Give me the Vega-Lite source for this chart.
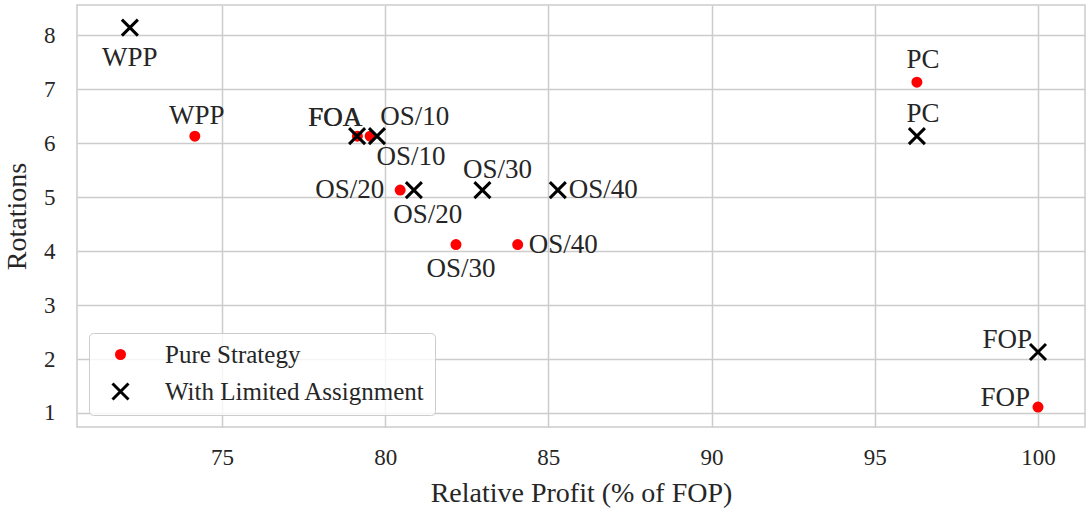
{
  "$schema": "https://vega.github.io/schema/vega-lite/v6.json",
  "autosize": "none",
  "width": 1008,
  "height": 422,
  "padding": {"left": 77, "top": 5, "right": 1, "bottom": 86},
  "background": "white",
  "config": {
    "font": "Liberation Serif",
    "view": {"stroke": "#cccccc", "strokeWidth": 1.5},
    "style": {
      "guide-label": {"font": "Liberation Serif", "fill": "#262626"},
      "guide-title": {"font": "Liberation Serif", "fill": "#262626"}
    },
    "axis": {
      "grid": true, "gridColor": "#cccccc", "gridWidth": 1.5,
      "domain": false, "ticks": false,
      "labelFont": "Liberation Serif", "labelFontSize": 23, "labelColor": "#262626",
      "titleFont": "Liberation Serif", "titleFontSize": 28, "titleColor": "#262626", "titleFontWeight": "normal"
    },
    "legend": {
      "labelFont": "Liberation Serif", "labelFontSize": 25, "labelColor": "#262626", "labelLimit": 0
    }
  },
  "data": {
    "values": [
      {"k": "P-WPP", "series": "Pure Strategy", "name": "WPP", "profit": 74.17, "rot": 6.13},
      {"k": "P-FOA", "series": "Pure Strategy", "name": "FOA", "profit": 79.15, "rot": 6.13},
      {"k": "P-OS10", "series": "Pure Strategy", "name": "OS/10", "profit": 79.54, "rot": 6.13},
      {"k": "P-OS20", "series": "Pure Strategy", "name": "OS/20", "profit": 80.46, "rot": 5.13},
      {"k": "P-OS30", "series": "Pure Strategy", "name": "OS/30", "profit": 82.17, "rot": 4.12},
      {"k": "P-OS40", "series": "Pure Strategy", "name": "OS/40", "profit": 84.06, "rot": 4.12},
      {"k": "P-PC", "series": "Pure Strategy", "name": "PC", "profit": 96.29, "rot": 7.13},
      {"k": "P-FOP", "series": "Pure Strategy", "name": "FOP", "profit": 100.0, "rot": 1.11},
      {"k": "X-WPP", "series": "With Limited Assignment", "name": "WPP", "profit": 72.18, "rot": 8.14},
      {"k": "X-FOA", "series": "With Limited Assignment", "name": "FOA", "profit": 79.14, "rot": 6.13},
      {"k": "X-OS10", "series": "With Limited Assignment", "name": "OS/10", "profit": 79.75, "rot": 6.13},
      {"k": "X-OS20", "series": "With Limited Assignment", "name": "OS/20", "profit": 80.88, "rot": 5.13},
      {"k": "X-OS30", "series": "With Limited Assignment", "name": "OS/30", "profit": 82.98, "rot": 5.13},
      {"k": "X-OS40", "series": "With Limited Assignment", "name": "OS/40", "profit": 85.29, "rot": 5.13},
      {"k": "X-PC", "series": "With Limited Assignment", "name": "PC", "profit": 96.29, "rot": 6.13},
      {"k": "X-FOP", "series": "With Limited Assignment", "name": "FOP", "profit": 100.0, "rot": 2.13}
    ]
  },
  "encoding": {
    "x": {"field": "profit", "type": "quantitative", "title": "Relative Profit (% of FOP)",
      "scale": {"domain": [70.56, 101.44], "nice": false, "zero": false},
      "axis": {"values": [75, 80, 85, 90, 95, 100], "labelPadding": 19, "titlePadding": 10,
        "labelFont": "Liberation Serif", "titleFont": "Liberation Serif", "labelFontSize": 23, "titleFontSize": 28}},
    "y": {"field": "rot", "type": "quantitative", "title": "Rotations",
      "scale": {"domain": [0.74, 8.56], "nice": false, "zero": false},
      "axis": {"values": [1, 2, 3, 4, 5, 6, 7, 8], "labelPadding": 22, "titlePadding": 12,
        "labelFont": "Liberation Serif", "titleFont": "Liberation Serif", "labelFontSize": 23, "titleFontSize": 28}}
  },
  "layer": [
    {
      "mark": {"type": "point", "strokeWidth": 3, "opacity": 1},
      "encoding": {
        "shape": {"field": "series", "type": "nominal", "title": null,
          "scale": {"domain": ["Pure Strategy", "With Limited Assignment"], "range": ["circle", "M-1,-1L1,1M-1,1L1,-1"]},
          "legend": {"orient": "bottom-left", "offset": 12, "padding": 9, "rowPadding": 9, "labelOffset": 32, "symbolOffset": 10,
            "labelFont": "Liberation Serif", "labelFontSize": 25, "labelLimit": 0,
            "fillColor": "rgba(255,255,255,0.8)", "strokeColor": "#cccccc", "cornerRadius": 4, "symbolStrokeWidth": 3}},
        "fill": {"field": "series", "type": "nominal", "title": null,
          "scale": {"domain": ["Pure Strategy", "With Limited Assignment"], "range": ["#ff0000", "transparent"]}},
        "stroke": {"field": "series", "type": "nominal", "title": null,
          "scale": {"domain": ["Pure Strategy", "With Limited Assignment"], "range": ["#ff0000", "#000000"]}},
        "size": {"field": "series", "type": "nominal", "title": null,
          "scale": {"domain": ["Pure Strategy", "With Limited Assignment"], "range": [64, 256]}}
      }
    },
    {"transform": [{"filter": {"field": "k", "equal": "X-WPP"}}],
     "mark": {"type": "text", "fontSize": 27, "color": "#262626", "align": "center", "baseline": "middle", "dx": 0, "dy": 30},
     "encoding": {"text": {"field": "name"}}},
    {"transform": [{"filter": {"field": "k", "equal": "P-WPP"}}],
     "mark": {"type": "text", "fontSize": 27, "color": "#262626", "align": "center", "baseline": "middle", "dx": 2, "dy": -20},
     "encoding": {"text": {"field": "name"}}},
    {"transform": [{"filter": {"field": "k", "oneOf": ["P-PC", "X-PC"]}}],
     "mark": {"type": "text", "fontSize": 27, "color": "#262626", "align": "center", "baseline": "middle", "dx": 6, "dy": -22},
     "encoding": {"text": {"field": "name"}}},
    {"transform": [{"filter": {"field": "k", "oneOf": ["P-FOA", "X-FOA"]}}],
     "mark": {"type": "text", "fontSize": 27, "color": "#262626", "align": "right", "baseline": "middle", "dx": 5, "dy": -18},
     "encoding": {"text": {"field": "name"}}},
    {"transform": [{"filter": {"field": "k", "equal": "P-OS10"}}],
     "mark": {"type": "text", "fontSize": 27, "color": "#262626", "align": "left", "baseline": "middle", "dx": 10, "dy": -19},
     "encoding": {"text": {"field": "name"}}},
    {"transform": [{"filter": {"field": "k", "equal": "X-OS10"}}],
     "mark": {"type": "text", "fontSize": 27, "color": "#262626", "align": "center", "baseline": "middle", "dx": 34, "dy": 21},
     "encoding": {"text": {"field": "name"}}},
    {"transform": [{"filter": {"field": "k", "equal": "P-OS20"}}],
     "mark": {"type": "text", "fontSize": 27, "color": "#262626", "align": "right", "baseline": "middle", "dx": -16, "dy": 0},
     "encoding": {"text": {"field": "name"}}},
    {"transform": [{"filter": {"field": "k", "equal": "X-OS20"}}],
     "mark": {"type": "text", "fontSize": 27, "color": "#262626", "align": "center", "baseline": "middle", "dx": 14, "dy": 25},
     "encoding": {"text": {"field": "name"}}},
    {"transform": [{"filter": {"field": "k", "equal": "X-OS30"}}],
     "mark": {"type": "text", "fontSize": 27, "color": "#262626", "align": "center", "baseline": "middle", "dx": 15, "dy": -20},
     "encoding": {"text": {"field": "name"}}},
    {"transform": [{"filter": {"field": "k", "oneOf": ["P-OS40", "X-OS40"]}}],
     "mark": {"type": "text", "fontSize": 27, "color": "#262626", "align": "left", "baseline": "middle", "dx": 11, "dy": 0},
     "encoding": {"text": {"field": "name"}}},
    {"transform": [{"filter": {"field": "k", "equal": "P-OS30"}}],
     "mark": {"type": "text", "fontSize": 27, "color": "#262626", "align": "center", "baseline": "middle", "dx": 5, "dy": 24},
     "encoding": {"text": {"field": "name"}}},
    {"transform": [{"filter": {"field": "k", "equal": "X-FOP"}}],
     "mark": {"type": "text", "fontSize": 27, "color": "#262626", "align": "right", "baseline": "middle", "dx": -6, "dy": -12},
     "encoding": {"text": {"field": "name"}}},
    {"transform": [{"filter": {"field": "k", "equal": "P-FOP"}}],
     "mark": {"type": "text", "fontSize": 27, "color": "#262626", "align": "right", "baseline": "middle", "dx": -8, "dy": -9},
     "encoding": {"text": {"field": "name"}}}
  ]
}
